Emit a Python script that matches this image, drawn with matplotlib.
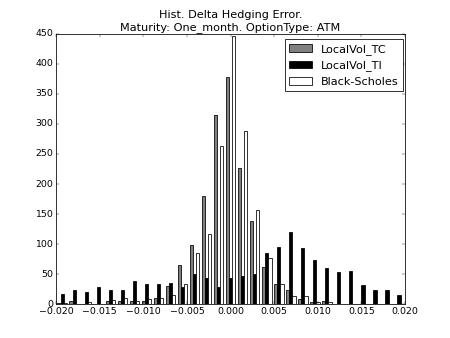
import numpy as np
import matplotlib
matplotlib.use("Agg")
import matplotlib.pyplot as plt

plt.style.use("classic")

# Histogram bin edges (29 bins over [-0.02, 0.02])
bin_edges = np.linspace(-0.02, 0.02, 30)
bin_centers = 0.5 * (bin_edges[:-1] + bin_edges[1:])

labels = ["LocalVol_TC", "LocalVol_TI", "Black-Scholes"]
colors = ["gray", "black", "white"]

counts_tc = [2, 6, 0, 1, 6, 5, 5, 5, 10, 30, 66, 98, 180, 315, 378, 227, 138, 62,
             33, 24, 9, 3, 5, 1, 0, 0, 0, 0, 0]
counts_ti = [17, 24, 20, 28, 23, 23, 38, 34, 34, 35, 29, 50, 43, 28, 43, 47, 51, 85,
             96, 120, 94, 73, 60, 53, 55, 32, 23, 23, 15]
counts_bs = [2, 0, 3, 0, 7, 11, 5, 8, 11, 16, 34, 86, 116, 264, 446, 289, 157, 77,
             34, 14, 13, 3, 4, 1, 0, 0, 0, 0, 0]

fig = plt.figure(figsize=(8, 6.0089), dpi=56.25)
ax = fig.add_subplot(111)
ax.hist([bin_centers, bin_centers, bin_centers], bins=bin_edges,
        weights=[counts_tc, counts_ti, counts_bs],
        color=colors, label=labels)
ax.set_xlim(-0.02, 0.02)
ax.set_ylim(0, 450)
ax.set_xticks(np.arange(-0.02, 0.0201, 0.005))
ax.set_yticks(np.arange(0, 451, 50))
ax.set_title("Hist. Delta Hedging Error.\nMaturity: One_month. OptionType: ATM")
ax.legend(loc="upper right", bbox_to_anchor=(1.011, 1.0))
fig.savefig("out.png", dpi=56.25)
